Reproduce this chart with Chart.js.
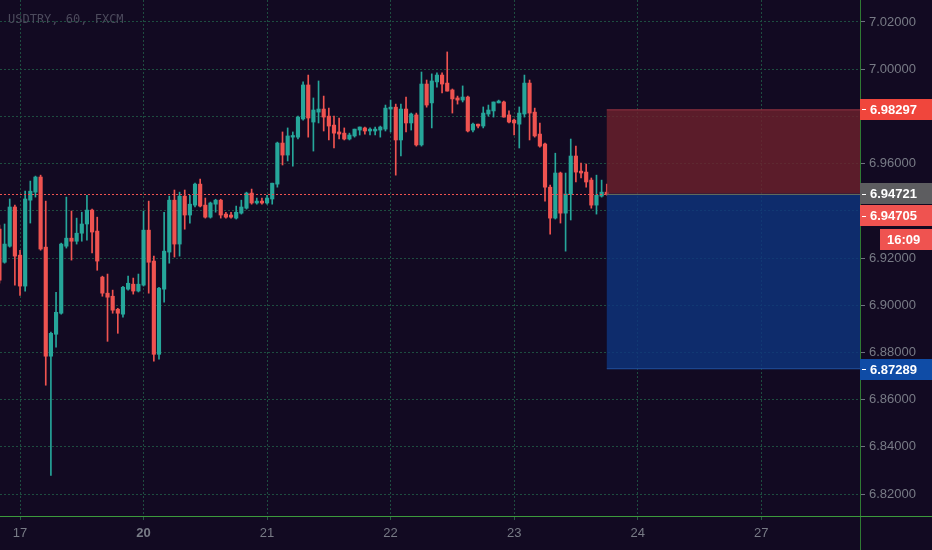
<!DOCTYPE html>
<html>
<head>
<meta charset="utf-8">
<script src="https://cdn.jsdelivr.net/npm/chart.js@4"></script>
<style>
  html, body { margin: 0; padding: 0; background: #120a22; }
  #wrap { width: 932px; height: 550px; }
</style>
</head>
<body>
<div id="wrap"><canvas id="myChart" width="932" height="550"></canvas></div>
<script>
// hourly USDTRY candles, first one sits 4 bars before the "17" tick
const firstIndex = -4;
const opens = [
  6.9322, 6.9182, 6.9250, 6.9416, 6.9212, 6.9081, 6.9445, 6.9479, 6.9543, 6.9246,
  6.8784, 6.8877, 6.8966, 6.9250, 6.9284, 6.9271, 6.9305, 6.9344, 6.9403, 6.9314,
  6.9119, 6.9051, 6.9038, 6.8983, 6.8962, 6.9068, 6.9089, 6.9060, 6.9085, 6.9318,
  6.9187, 6.8792, 6.9068, 6.9225, 6.9445, 6.9259, 6.9462, 6.9382, 6.9424, 6.9513,
  6.9424, 6.9373, 6.9428, 6.9445, 6.9386, 6.9382, 6.9369, 6.9390, 6.9411, 6.9475,
  6.9433, 6.9441, 6.9433, 6.9450, 6.9513, 6.9687, 6.9636, 6.9712, 6.9712, 6.9789,
  6.9933, 6.9776, 6.9818, 6.9831, 6.9801, 6.9763, 6.9734, 6.9729, 6.9704, 6.9717,
  6.9742, 6.9751, 6.9738, 6.9738, 6.9742, 6.9746, 6.9831, 6.9839, 6.9700, 6.9831,
  6.9772, 6.9806, 6.9679, 6.9937, 6.9857, 6.9946, 6.9975, 6.9941, 6.9912, 6.9878,
  6.9869, 6.9882, 6.9742, 6.9767, 6.9759, 6.9810, 6.9823, 6.9857, 6.9861, 6.9806,
  6.9784, 6.9767, 6.9810, 6.9941, 6.9818, 6.9725, 6.9683, 6.9500, 6.9369, 6.9560,
  6.9390, 6.9471, 6.9632, 6.9568, 6.9564, 6.9530, 6.9424, 6.9462, 6.9479
];
const highs = [
  6.9339, 6.9344, 6.9450, 6.9424, 6.9233, 6.9483, 6.9526, 6.9547, 6.9551, 6.9441,
  6.8886, 6.9055, 6.9263, 6.9458, 6.9399, 6.9369, 6.9394, 6.9466, 6.9407, 6.9373,
  6.9123, 6.9132, 6.9064, 6.8987, 6.9080, 6.9123, 6.9115, 6.9132, 6.9399, 6.9441,
  6.9208, 6.9076, 6.9394, 6.9462, 6.9488, 6.9479, 6.9488, 6.9466, 6.9517, 6.9534,
  6.9454, 6.9437, 6.9449, 6.9449, 6.9394, 6.9394, 6.9420, 6.9445, 6.9479, 6.9492,
  6.9454, 6.9454, 6.9466, 6.9517, 6.9691, 6.9734, 6.9751, 6.9734, 6.9801, 6.9946,
  6.9975, 6.9878, 6.9950, 6.9886, 6.9835, 6.9801, 6.9793, 6.9751, 6.9729, 6.9746,
  6.9755, 6.9755, 6.9751, 6.9755, 6.9759, 6.9848, 6.9869, 6.9852, 6.9852, 6.9882,
  6.9814, 6.9814, 6.9988, 6.9954, 6.9980, 6.9984, 6.9984, 7.0073, 6.9916, 6.9886,
  6.9929, 6.9886, 6.9772, 6.9767, 6.9840, 6.9848, 6.9861, 6.9869, 6.9865, 6.9823,
  6.9789, 6.9840, 6.9975, 6.9954, 6.9835, 6.9772, 6.9687, 6.9509, 6.9644, 6.9564,
  6.9560, 6.9704, 6.9674, 6.9602, 6.9598, 6.9539, 6.9551, 6.9530, 6.9513
];
const lows = [
  6.9093, 6.9178, 6.9246, 6.9085, 6.9042, 6.9059, 6.9348, 6.9458, 6.9233, 6.8661,
  6.8279, 6.8822, 6.8962, 6.9242, 6.9191, 6.9259, 6.9271, 6.9276, 6.9221, 6.9148,
  6.9038, 6.8847, 6.8966, 6.8881, 6.8949, 6.9064, 6.9047, 6.9056, 6.9081, 6.9051,
  6.8763, 6.8771, 6.9013, 6.9178, 6.9204, 6.9208, 6.9322, 6.9348, 6.9416, 6.9416,
  6.9369, 6.9369, 6.9394, 6.9369, 6.9369, 6.9369, 6.9365, 6.9386, 6.9407, 6.9428,
  6.9428, 6.9428, 6.9428, 6.9428, 6.9500, 6.9594, 6.9611, 6.9589, 6.9704, 6.9784,
  6.9712, 6.9653, 6.9772, 6.9738, 6.9700, 6.9666, 6.9704, 6.9700, 6.9700, 6.9712,
  6.9721, 6.9725, 6.9721, 6.9721, 6.9712, 6.9738, 6.9734, 6.9551, 6.9632, 6.9734,
  6.9742, 6.9674, 6.9674, 6.9839, 6.9751, 6.9924, 6.9899, 6.9907, 6.9814, 6.9852,
  6.9861, 6.9734, 6.9734, 6.9751, 6.9751, 6.9801, 6.9797, 6.9857, 6.9797, 6.9772,
  6.9721, 6.9666, 6.9797, 6.9700, 6.9712, 6.9670, 6.9441, 6.9301, 6.9365, 6.9348,
  6.9229, 6.9361, 6.9522, 6.9539, 6.9500, 6.9411, 6.9386, 6.9458, 6.9466
];
const closes = [
  6.9106, 6.9259, 6.9416, 6.9208, 6.9081, 6.9450, 6.9483, 6.9543, 6.9238, 6.8784,
  6.8881, 6.8970, 6.9259, 6.9284, 6.9271, 6.9305, 6.9344, 6.9403, 6.9310, 6.9187,
  6.9051, 6.9034, 6.8979, 6.8966, 6.9076, 6.9093, 6.9060, 6.9089, 6.9318, 6.9182,
  6.8792, 6.9072, 6.9229, 6.9445, 6.9259, 6.9462, 6.9382, 6.9428, 6.9513, 6.9420,
  6.9373, 6.9433, 6.9445, 6.9382, 6.9373, 6.9373, 6.9394, 6.9416, 6.9475, 6.9433,
  6.9441, 6.9433, 6.9454, 6.9517, 6.9687, 6.9636, 6.9717, 6.9719, 6.9797, 6.9933,
  6.9793, 6.9827, 6.9831, 6.9797, 6.9759, 6.9729, 6.9725, 6.9704, 6.9721, 6.9746,
  6.9755, 6.9738, 6.9746, 6.9746, 6.9755, 6.9835, 6.9839, 6.9700, 6.9831, 6.9772,
  6.9810, 6.9679, 6.9937, 6.9848, 6.9950, 6.9975, 6.9937, 6.9907, 6.9874, 6.9869,
  6.9882, 6.9738, 6.9767, 6.9759, 6.9814, 6.9827, 6.9861, 6.9865, 6.9797, 6.9776,
  6.9772, 6.9814, 6.9941, 6.9814, 6.9717, 6.9674, 6.9500, 6.9369, 6.9560, 6.9390,
  6.9471, 6.9632, 6.9564, 6.9560, 6.9522, 6.9424, 6.9466, 6.9479, 6.9472
];

const dayTicks = [0, 24, 48, 72, 96, 120, 144];
const dayLabels = ['17', '20', '21', '22', '23', '24', '27'];
const priceTicks = [6.82, 6.84, 6.86, 6.88, 6.90, 6.92, 6.94, 6.96, 6.98, 7.00, 7.02];

// short position tool and price badges
const positionStart = 114;
const stopPrice = 6.98297;
const entryPrice = 6.94721;
const targetPrice = 6.87289;
const lastPrice = 6.94705;
const countdown = '16:09';

const upColor = '#26a69a';
const downColor = '#ef5350';
const gridColor = '#1e4d40';
const labelColor = '#787b86';
const fontFamily = '"Liberation Sans", Arial, sans-serif';

const idx = opens.map((_, i) => firstIndex + i);
const candleColors = closes.map((c, i) => c >= opens[i] ? upColor : downColor);

function noPadding(axis) {
    axis.paddingTop = 0;
    axis.paddingBottom = 0;
    axis.paddingLeft = 0;
    axis.paddingRight = 0;
}

const overlay = {
    id: 'overlay',
    beforeDraw(chart) {
        const ctx = chart.ctx;
        ctx.save();
        ctx.fillStyle = '#120a22';
        ctx.fillRect(0, 0, chart.width, chart.height);
        ctx.restore();
    },
    afterDatasetsDraw(chart) {
        const ctx = chart.ctx;
        const xs = chart.scales.x, ys = chart.scales.y;
        const area = chart.chartArea;
        const x0 = xs.getPixelForValue(positionStart);
        const yStop = ys.getPixelForValue(stopPrice);
        const yEntry = ys.getPixelForValue(entryPrice);
        const yTarget = ys.getPixelForValue(targetPrice);
        const yLast = ys.getPixelForValue(lastPrice);

        ctx.save();
        // last price line
        ctx.strokeStyle = downColor;
        ctx.lineWidth = 1;
        ctx.setLineDash([2, 2]);
        ctx.beginPath();
        ctx.moveTo(area.left, Math.round(yLast) + 0.5);
        ctx.lineTo(area.right, Math.round(yLast) + 0.5);
        ctx.stroke();
        ctx.setLineDash([]);

        // risk / reward boxes
        ctx.fillStyle = 'rgba(110,33,45,0.8)';
        ctx.fillRect(x0, yStop, area.right - x0, yEntry - yStop);
        ctx.fillStyle = 'rgba(14,52,127,0.8)';
        ctx.fillRect(x0, yEntry, area.right - x0, yTarget - yEntry);
        ctx.fillStyle = 'rgba(170,60,75,0.7)';
        ctx.fillRect(x0, yStop, area.right - x0, 1);
        ctx.fillStyle = 'rgba(40,90,170,0.7)';
        ctx.fillRect(x0, yTarget - 1, area.right - x0, 1);
        ctx.fillStyle = '#5f6a5c';
        ctx.fillRect(x0, Math.round(yEntry), area.right - x0, 1);
        ctx.restore();
    },
    afterDraw(chart) {
        const ctx = chart.ctx;
        const ys = chart.scales.y;
        const area = chart.chartArea;

        ctx.save();
        // pane separators
        ctx.fillStyle = '#2f7a33';
        ctx.fillRect(Math.round(area.right), 0, 1, chart.height);
        ctx.fillStyle = '#3c9a3c';
        ctx.fillRect(0, Math.round(area.bottom), chart.width, 1);

        // symbol caption
        ctx.font = '12px "DejaVu Sans Mono", monospace';
        ctx.fillStyle = '#4c4a5c';
        ctx.textBaseline = 'middle';
        ctx.textAlign = 'left';
        ctx.fillText('USDTRY, 60, FXCM', 8, 20);

        const axisLeft = Math.round(area.right);
        const badge = (text, yc, bg, left) => {
            const h = 21;
            const top = Math.round(yc - h / 2);
            ctx.fillStyle = bg;
            ctx.fillRect(left, top, chart.width - left, h);
            if (left === axisLeft) {
                ctx.fillStyle = '#ffffff';
                ctx.fillRect(left + 2, Math.round(yc), 4, 1);
            }
            ctx.fillStyle = '#ffffff';
            ctx.font = 'bold 13px ' + fontFamily;
            ctx.textBaseline = 'middle';
            ctx.fillText(text, left === axisLeft ? left + 10 : left + 7, yc + 1);
        };
        const yEntry = ys.getPixelForValue(entryPrice);
        badge(stopPrice.toFixed(5), ys.getPixelForValue(stopPrice), '#f0463c', axisLeft);
        badge(entryPrice.toFixed(5), yEntry, '#5d5d60', axisLeft);
        badge(lastPrice.toFixed(5), yEntry + 22, '#ef5350', axisLeft);
        badge(countdown, yEntry + 46, '#ef5350', axisLeft + 20);
        badge(targetPrice.toFixed(5), ys.getPixelForValue(targetPrice), '#0f4ca6', axisLeft);
        ctx.restore();
    }
};

const ctx = document.getElementById('myChart').getContext('2d');
const myChart = new Chart(ctx, {
    type: 'bar',
    data: {
        datasets: [
            {
                label: 'wicks',
                data: idx.map((x, i) => ({ x: x, y: [lows[i], highs[i]] })),
                backgroundColor: candleColors,
                barThickness: 1,
                grouped: false,
                order: 2,
                borderWidth: 0
            },
            {
                label: 'bodies',
                data: idx.map((x, i) => ({ x: x, y: [opens[i], closes[i]] })),
                backgroundColor: candleColors,
                barThickness: 3.5,
                minBarLength: 1,
                grouped: false,
                order: 1,
                borderWidth: 0
            }
        ]
    },
    options: {
        responsive: false,
        animation: false,
        layout: { padding: 0 },
        plugins: {
            legend: { display: false },
            tooltip: { enabled: false }
        },
        scales: {
            x: {
                type: 'linear',
                min: -3.89,
                max: 163.2,
                offset: false,
                afterBuildTicks: axis => { axis.ticks = dayTicks.map(v => ({ value: v })); },
                afterFit: axis => { axis.height = 34; noPadding(axis); },
                grid: { offset: false, color: gridColor, lineWidth: 1, tickColor: '#2a5a44', tickLength: 4 },
                border: { display: false, dash: [2, 2] },
                ticks: {
                    autoSkip: false,
                    maxRotation: 0,
                    padding: 6,
                    color: labelColor,
                    font: c => ({ family: fontFamily, size: 13, weight: c.tick && c.tick.value === 24 ? 'bold' : 'normal' }),
                    callback: v => dayLabels[dayTicks.indexOf(v)]
                }
            },
            y: {
                type: 'linear',
                position: 'right',
                min: 6.8107,
                max: 7.0293,
                afterBuildTicks: axis => { axis.ticks = priceTicks.map(v => ({ value: v })); },
                afterFit: axis => { axis.width = 72; noPadding(axis); },
                grid: { color: gridColor, lineWidth: 1, tickColor: '#6f7280', tickLength: 5 },
                border: { display: false, dash: [2, 2] },
                ticks: {
                    padding: 4,
                    color: labelColor,
                    font: { family: fontFamily, size: 13 },
                    callback: v => v.toFixed(5)
                }
            }
        }
    },
    plugins: [overlay]
});
</script>
</body>
</html>
